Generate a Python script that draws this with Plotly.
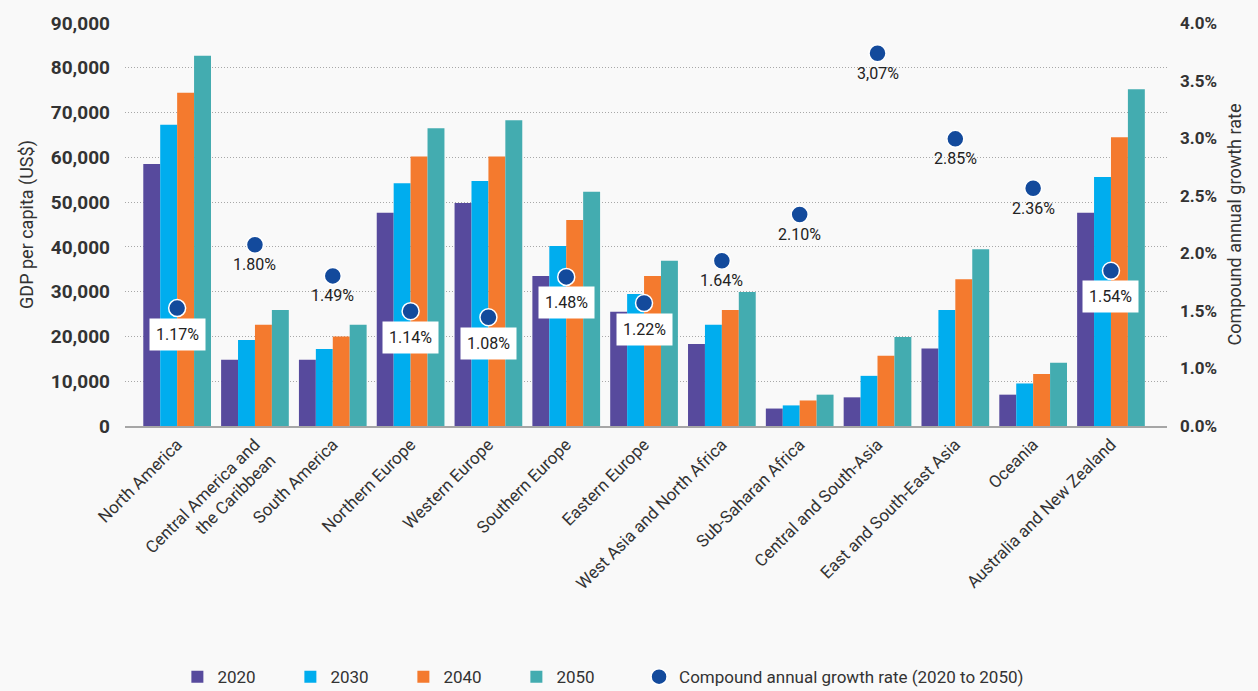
import numpy as np
import plotly.graph_objects as go

regions = [
    "North America", "Central America and<br>the Caribbean", "South America",
    "Northern Europe", "Western Europe", "Southern Europe", "Eastern Europe",
    "West Asia and North Africa", "Sub-Saharan Africa", "Central and South-Asia",
    "East and South-East Asia", "Oceania", "Australia and New Zealand",
]

gdp_2020 = [58500, 14800, 14800, 47600, 49800, 33500, 25500, 18300, 3900, 6400, 17300, 7000, 47600]
gdp_2030 = [67300, 19200, 17200, 54200, 54700, 40200, 29500, 22600, 4600, 11200, 25900, 9500, 55600]
gdp_2040 = [74400, 22600, 20000, 60200, 60200, 46000, 33500, 25900, 5700, 15700, 32800, 11600, 64500]
gdp_2050 = [82700, 25900, 22600, 66500, 68300, 52300, 36900, 29900, 7000, 19900, 39500, 14100, 75200]

# taux de croissance : position du point et texte affiché (3,07% est placé plus haut dans l'original)
cagr = [1.17, 1.80, 1.49, 1.14, 1.08, 1.48, 1.22, 1.64, 2.10, 3.70, 2.85, 2.36, 1.54]
cagr_text = ["1.17%", "1.80%", "1.49%", "1.14%", "1.08%", "1.48%", "1.22%",
             "1.64%", "2.10%", "3,07%", "2.85%", "2.36%", "1.54%"]
cagr_boxed = [True, False, False, True, True, True, True, False, False, False, False, False, True]

right_ticks = ["0.0%", "1.0%", "1.5%", "2.0%", "2.5%", "3.0%", "3.5%", "4.0%"]

years = ["2020", "2030", "2040", "2050"]
series = [gdp_2020, gdp_2030, gdp_2040, gdp_2050]
colors = ["#574a9d", "#00adee", "#f47a2e", "#43acb0"]
DOT = "#134a9c"
BG = "#f9f9f9"
FONT = "Roboto, Arial, sans-serif"

fig = go.Figure()
for name, vals, c in zip(years, series, colors):
    fig.add_trace(go.Bar(x=regions, y=vals, name=name, legend="legend",
                         marker=dict(color=c, line=dict(width=0))))

fig.add_trace(go.Scatter(
    x=regions, y=cagr, yaxis="y2", mode="markers", legend="legend2",
    name="Compound annual growth rate (2020 to 2050)",
    marker=dict(size=17, color=DOT, line=dict(color="white", width=1.5)),
))

for reg, v, t, boxed in zip(regions, cagr, cagr_text, cagr_boxed):
    fig.add_annotation(
        x=reg, y=v, xref="x", yref="y2", text=t, showarrow=False,
        yanchor="middle", yshift=-26 if boxed else -20,
        font=dict(family=FONT, size=16, color="#222"),
        bgcolor="white" if boxed else "rgba(0,0,0,0)",
        borderpad=6 if boxed else 0,
    )

leg_common = dict(orientation="h", yref="container", y=0.02, yanchor="middle",
                  xref="container", xanchor="left", bgcolor="rgba(0,0,0,0)",
                  font=dict(size=17, color="#333"))

fig.update_layout(
    width=1258, height=691,
    margin=dict(l=125, r=91, t=23, b=265),
    paper_bgcolor=BG, plot_bgcolor=BG,
    font=dict(family=FONT, color="#333"),
    barmode="group", bargap=0.13, bargroupgap=0,
    showlegend=True,
    legend=dict(x=0.141, entrywidth=68, entrywidthmode="pixels", **leg_common),
    legend2=dict(x=0.508, **leg_common),
)

fig.update_xaxes(
    range=[-0.67, 12.72], tickangle=-45, tickfont=dict(size=17, color="#333"),
    showline=True, linecolor="#a6a6a6", linewidth=2, showgrid=False, ticks="",
)
fig.update_yaxes(
    range=[0, 90000], tickvals=list(range(0, 90001, 10000)), tickformat=",d",
    tickfont=dict(size=19, color="#333", weight="bold"),
    showgrid=True, gridcolor="#a8a8a8", griddash="1px,2px", gridwidth=1,
    zeroline=False, ticklabelstandoff=14,
    title=dict(text="GDP per capita (US$)", font=dict(size=18, color="#333"), standoff=12),
)
fig.update_layout(yaxis2=dict(
    overlaying="y", side="right", range=[0, 4],
    tickvals=list(np.linspace(0, 4, len(right_ticks))), ticktext=right_ticks,
    tickfont=dict(size=17, color="#333", weight="bold"),
    showgrid=False, zeroline=False, ticklabelstandoff=12,
    title=dict(text="Compound annual growth rate", font=dict(size=18, color="#333"), standoff=12),
))

fig.write_html(
    "out.html",
    config={"displayModeBar": False},
    post_script="document.body.style.margin='0';document.body.style.background='%s';" % BG,
)
